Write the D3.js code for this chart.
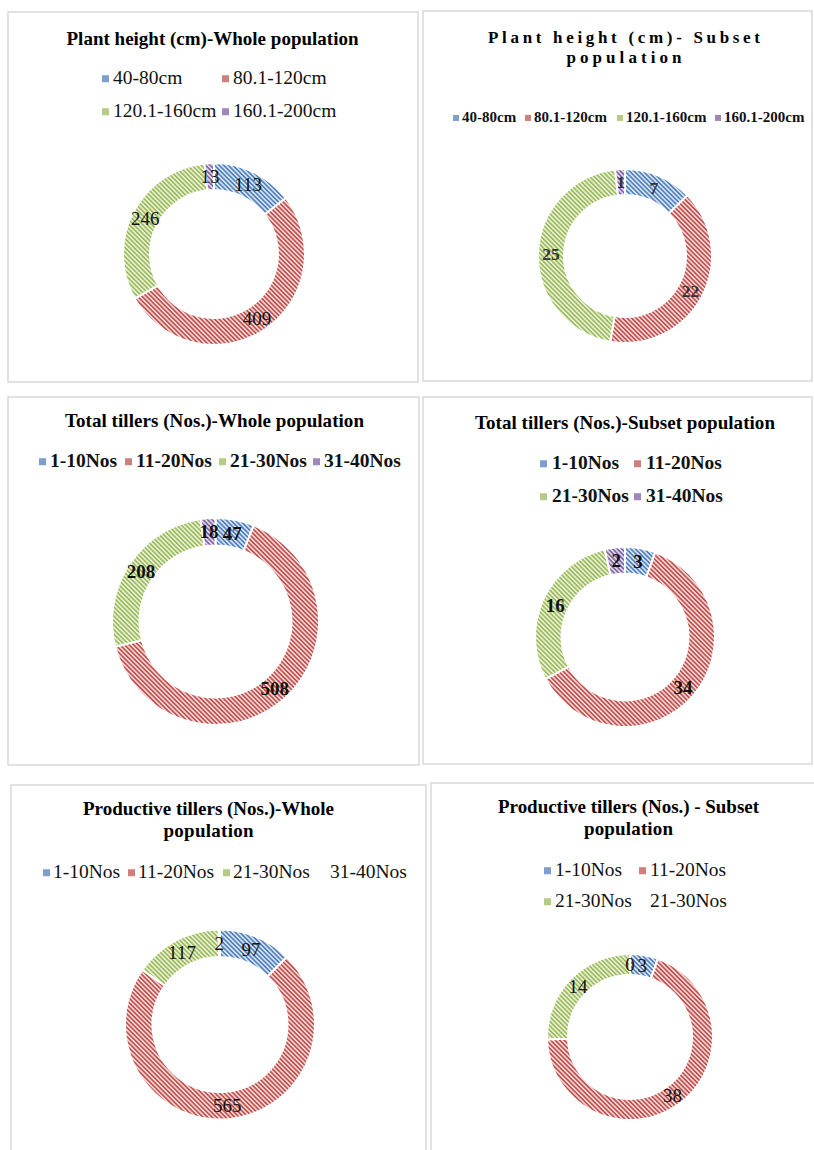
<!DOCTYPE html>
<html>
<head>
<meta charset="utf-8">
<script src="https://cdn.jsdelivr.net/npm/d3@7"></script>
<style>
  html, body { margin: 0; padding: 0; background: #fff; }
  svg { display: block; }
  text { font-family: "Liberation Serif", "Times New Roman", serif; }
</style>
</head>
<body>
<svg id="chart" width="814" height="1150"></svg>
<script>
// ---------------- data ----------------
const heightCategories = ["40-80cm", "80.1-120cm", "120.1-160cm", "160.1-200cm"];
const heightWholeValues = [113, 409, 246, 13];
const heightSubsetValues = [7, 22, 25, 1];

const tillerCategories = ["1-10Nos", "11-20Nos", "21-30Nos", "31-40Nos"];
const totalWholeValues = [47, 508, 208, 18];
const totalSubsetValues = [3, 34, 16, 2];

const prodWholeCategories = ["1-10Nos", "11-20Nos", "21-30Nos", "31-40Nos"];
const prodWholeValues = [97, 565, 117, 2];
const prodSubsetCategories = ["1-10Nos", "11-20Nos", "21-30Nos", "21-30Nos"];
const prodSubsetValues = [3, 38, 14, 0];

const titles = [
  ["Plant height (cm)-Whole population"],
  ["Plant height (cm)- Subset", "population"],
  ["Total tillers (Nos.)-Whole population"],
  ["Total tillers (Nos.)-Subset population"],
  ["Productive tillers (Nos.)-Whole", "population"],
  ["Productive tillers (Nos.) - Subset", "population"]
];

// ---------------- styles ----------------
const baseColors = ["#4F81BD", "#C0504D", "#9BBB59", "#8064A2"];
const tintColors = ["#D8E2F0", "#F2D6D5", "#E8EFD8", "#DED6EA"];
const markerColors = ["#7E9FCC", "#D07F7C", "#B4CC84", "#9E88BA"];

const svg = d3.select("#chart");
const defs = svg.append("defs");
baseColors.forEach((c, i) => {
  const p = defs.append("pattern")
    .attr("id", "hatch" + i)
    .attr("patternUnits", "userSpaceOnUse")
    .attr("width", 3.2).attr("height", 3.2)
    .attr("patternTransform", "rotate(45)");
  p.append("rect").attr("width", 3.2).attr("height", 3.2).attr("fill", tintColors[i]);
  p.append("rect").attr("width", 3.2).attr("height", 1.6).attr("fill", c);
});

// ---------------- layout ----------------
const panels = [
  {
    box: [8, 12, 410, 370], cats: heightCategories, vals: heightWholeValues, title: titles[0],
    visible: [1,1,1,1],
    titleX: 212.5, titleY: [45], titleLen: [292], titleSize: 19,
    legendSize: 19.5, legendBold: false, legendGap: 11,
    legendRows: [{y: 84, items: [[0, 102], [1, 222]]}, {y: 117, items: [[2, 102], [3, 222]]}],
    cx: 214, cy: 254, ro: 91, ri: 64, labelSize: 19, labelBold: false, labelColor: "#111"
  },
  {
    box: [423, 11, 389, 370], cats: heightCategories, vals: heightSubsetValues, title: titles[1],
    visible: [1,1,1,1],
    titleX: 624, titleY: [43, 63], titleLen: [272, 115], titleSize: 17,
    legendSize: 15, legendBold: true, legendGap: 9,
    legendRows: [{y: 122, items: [[0, 453], [1, 525], [2, 617], [3, 715]]}],
    cx: 625, cy: 256, ro: 87, ri: 61, labelSize: 17.5, labelBold: true, labelColor: "#333"
  },
  {
    box: [8, 397, 411, 368], cats: tillerCategories, vals: totalWholeValues, title: titles[2],
    visible: [1,1,1,1],
    titleX: 214.5, titleY: [427], titleLen: [299], titleSize: 19,
    legendSize: 19.5, legendBold: true, legendGap: 11,
    legendRows: [{y: 467, items: [[0, 39], [1, 125], [2, 219], [3, 313]]}],
    cx: 215.5, cy: 621.5, ro: 103.5, ri: 76, labelSize: 19, labelBold: true, labelColor: "#111"
  },
  {
    box: [423, 397, 389, 367], cats: tillerCategories, vals: totalSubsetValues, title: titles[3],
    visible: [1,1,1,1],
    titleX: 625, titleY: [429], titleLen: [300], titleSize: 19,
    legendSize: 19.5, legendBold: true, legendGap: 12,
    legendRows: [{y: 469, items: [[0, 540], [1, 634]]}, {y: 502, items: [[2, 540], [3, 634]]}],
    cx: 625, cy: 637, ro: 90, ri: 63.5, labelSize: 19, labelBold: true, labelColor: "#111"
  },
  {
    box: [11, 785, 415, 380], cats: prodWholeCategories, vals: prodWholeValues, title: titles[4],
    visible: [1,1,1,0],
    titleX: 208.5, titleY: [815, 837], titleLen: [251, 90], titleSize: 19,
    legendSize: 19.5, legendBold: false, legendGap: 10,
    legendRows: [{y: 878, items: [[0, 43], [1, 128], [2, 223], [3, 320]]}],
    cx: 220, cy: 1024.5, ro: 95, ri: 67.5, labelSize: 19, labelBold: false, labelColor: "#111"
  },
  {
    box: [431, 783, 390, 380], cats: prodSubsetCategories, vals: prodSubsetValues, title: titles[5],
    visible: [1,1,1,0],
    titleX: 628.5, titleY: [813, 835], titleLen: [261, 89], titleSize: 19,
    legendSize: 19.5, legendBold: false, legendGap: 11,
    legendRows: [{y: 876, items: [[0, 544], [1, 639]]}, {y: 907, items: [[2, 544], [3, 639]]}],
    cx: 630, cy: 1037, ro: 83, ri: 62, labelSize: 19, labelBold: false, labelColor: "#111"
  }
];

const pie = d3.pie().sort(null).value(d => d);

panels.forEach(P => {
  const g = svg.append("g");
  // border
  g.append("rect")
    .attr("x", P.box[0]).attr("y", P.box[1])
    .attr("width", P.box[2]).attr("height", P.box[3])
    .attr("fill", "#fff").attr("stroke", "#D9D9D9").attr("stroke-width", 1.5);

  // title
  P.title.forEach((line, k) => {
    g.append("text")
      .attr("x", P.titleX).attr("y", P.titleY[k])
      .attr("text-anchor", "middle")
      .attr("font-size", P.titleSize).attr("font-weight", "bold")
      .attr("fill", "#000")
      .attr("textLength", P.titleLen[k]).attr("lengthAdjust", "spacing")
      .text(line);
  });

  // legend
  P.legendRows.forEach(row => {
    row.items.forEach(([i, mx]) => {
      const ms = P.legendSize > 16 ? 7 : 6;
      g.append("rect")
        .attr("x", mx).attr("y", row.y - P.legendSize * 0.27 - ms / 2)
        .attr("width", ms).attr("height", ms)
        .attr("fill", P.visible[i] ? markerColors[i] : "none");
      g.append("text")
        .attr("x", mx + P.legendGap).attr("y", row.y)
        .attr("font-size", P.legendSize)
        .attr("font-weight", P.legendBold ? "bold" : "normal")
        .attr("fill", "#111")
        .text(P.cats[i]);
    });
  });

  // donut
  const arc = d3.arc().innerRadius(P.ri).outerRadius(P.ro);
  const arcs = pie(P.vals);
  const dg = g.append("g").attr("transform", `translate(${P.cx},${P.cy})`);
  dg.selectAll("path").data(arcs).join("path")
    .attr("d", arc)
    .attr("fill", (d, i) => P.visible[i] ? "url(#hatch" + i + ")" : "none")
    .attr("stroke", (d, i) => P.visible[i] ? "#fff" : "none")
    .attr("stroke-width", 2);
  dg.selectAll("text").data(arcs).join("text")
    .attr("transform", d => { const c = arc.centroid(d); return `translate(${c[0]},${c[1]})`; })
    .attr("text-anchor", "middle")
    .attr("dominant-baseline", "central")
    .attr("font-size", P.labelSize)
    .attr("font-weight", P.labelBold ? "bold" : "normal")
    .attr("fill", P.labelColor)
    .text(d => d.data);
});
</script>
</body>
</html>
